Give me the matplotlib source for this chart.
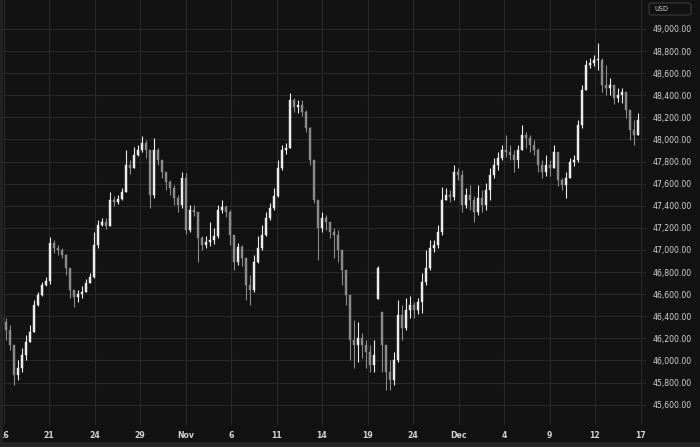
import matplotlib
matplotlib.use("Agg")
import matplotlib.pyplot as plt
from matplotlib.patches import FancyBboxPatch, Rectangle
import numpy as np

# price data (USD), one candle per slot; open = previous close unless gapped
first_open = 46390
closes = [46350, 46275, 46140, 45870, 45930, 46050, 46165, 46255, 46500, 46590,
          46685, 46720, 47065, 47020, 47000, 46955, 46835, 46640, 46575, 46600,
          46620, 46700, 46755, 47045, 47225, 47255, 47215, 47450, 47435, 47460,
          47525, 47770, 47740, 47860, 47905, 47970, 47905, 47495, 47905, 47815,
          47705, 47615, 47560, 47470, 47405, 47650, 47180, 47360, 47345, 47110,
          47045, 47070, 47090, 47125, 47360, 47390, 47345, 47135, 46890, 47025,
          46925, 46685, 46640, 46890, 47020, 47135, 47290, 47380, 47490, 47740,
          47905, 47925, 48355, 48295, 48310, 48250, 48105, 47815, 47450, 47200,
          47290, 47255, 47160, 47135, 47000, 46820, 46590, 46185, 46140, 46205,
          46140, 46075, 45960, 46050, 46835, 46140, 45895, 45825, 46005, 46410,
          46295, 46455, 46500, 46455, 46530, 46710, 46835, 47020, 47045, 47160,
          47450, 47495, 47480, 47705, 47680, 47405, 47495, 47450, 47345, 47470,
          47405, 47540, 47680, 47770, 47830, 47905, 47885, 47860, 47815, 47905,
          48040, 48015, 47950, 47905, 47770, 47705, 47770, 47740, 47885, 47635,
          47590, 47650, 47795, 47815, 48130, 48450, 48675, 48690, 48720, 48720,
          48495, 48465, 48495, 48375, 48400, 48430, 48265, 48085, 48040, 48175]
highs = [46410, 46385, 46320, 46140, 46005, 46115, 46230, 46320, 46550, 46620,
         46710, 46755, 47115, 47090, 47045, 47020, 46965, 46820, 46640, 46640,
         46675, 46735, 46790, 47160, 47270, 47290, 47290, 47525, 47490, 47495,
         47560, 47905, 47815, 47930, 47950, 48030, 47995, 47905, 48015, 47925,
         47815, 47705, 47635, 47590, 47495, 47705, 47695, 47405, 47405, 47315,
         47125, 47125, 47255, 47200, 47405, 47450, 47405, 47360, 47135, 47065,
         47045, 46865, 46775, 46955, 47125, 47225, 47345, 47425, 47560, 47815,
         47950, 47970, 48420, 48375, 48355, 48355, 48265, 48115, 47680, 47315,
         47345, 47315, 47225, 47200, 47180, 46955, 46685, 46385, 46365, 46350,
         46250, 46185, 46140, 46185, 46855, 46440, 46050, 46005, 46075, 46550,
         46500, 46565, 46585, 46530, 46565, 46790, 47000, 47090, 47090, 47225,
         47570, 47560, 47540, 47770, 47740, 47725, 47560, 47590, 47490, 47590,
         47540, 47605, 47740, 47830, 47885, 47950, 48040, 47950, 47905, 47950,
         48130, 48065, 48040, 47995, 47925, 47815, 47860, 47815, 47950, 47885,
         47650, 47705, 47830, 47860, 48175, 48495, 48720, 48740, 48765, 48875,
         48740, 48675, 48555, 48495, 48465, 48465, 48430, 48195, 48175, 48240]
lows = [46295, 46185, 46095, 45780, 45825, 45895, 46005, 46165, 46350, 46495,
        46585, 46675, 46690, 46970, 46955, 46925, 46775, 46565, 46485, 46530,
        46565, 46640, 46700, 46745, 47020, 47215, 47190, 47360, 47400, 47415,
        47450, 47680, 47690, 47740, 47850, 47885, 47830, 47380, 47470, 47770,
        47650, 47540, 47495, 47405, 47345, 47380, 47145, 47160, 47305, 46890,
        47000, 47020, 47035, 47055, 47110, 47335, 47300, 47045, 46820, 46865,
        46855, 46550, 46500, 46620, 46880, 47000, 47125, 47270, 47360, 47480,
        47725, 47870, 48060, 48250, 48240, 48210, 48065, 47770, 47425, 46910,
        47160, 47180, 47110, 46925, 46890, 46685, 46500, 46005, 45930, 45985,
        46020, 45930, 45895, 45895, 46560, 45895, 45735, 45735, 45780, 45985,
        46185, 46275, 46385, 46385, 46420, 46430, 46685, 46820, 46980, 47020,
        47135, 47450, 47435, 47450, 47635, 47345, 47380, 47360, 47255, 47315,
        47345, 47360, 47450, 47650, 47725, 47815, 47840, 47815, 47705, 47740,
        47905, 47925, 47885, 47860, 47705, 47650, 47670, 47670, 47740, 47580,
        47540, 47470, 47705, 47760, 47795, 48105, 48450, 48645, 48665, 48630,
        48430, 48400, 48400, 48320, 48340, 48330, 48195, 47995, 47950, 48085]
gap_opens = {94: 46560, 95: 46440}
tick_labels = ["16", "21", "24", "29", "Nov", "6", "11", "14", "19", "24",
               "Dec", "4", "9", "12", "17"]
price_ticks = list(range(45600, 49001, 200))

BG = "#121212"
GRID = "#282828"
TXT = "#d2d2d2"
UP = "#ececec"
DOWN = "#8a8a8a"

closes = np.array(closes, dtype=float)
opens = np.concatenate([[first_open], closes[:-1]])
for i, o in gap_opens.items():
    opens[i] = o
highs = np.maximum(np.array(highs, dtype=float), np.maximum(opens, closes))
lows = np.minimum(np.array(lows, dtype=float), np.minimum(opens, closes))
n = len(closes)
idx = np.arange(n)

fig = plt.figure(figsize=(7, 4.47), dpi=100, facecolor=BG)
ax = fig.add_axes([0, 22 / 447, 646 / 700, 425 / 447])
ax.set_facecolor(BG)

up = closes >= opens
cols = np.where(up, UP, DOWN)
ax.vlines(idx, lows, highs, colors=cols, linewidth=0.8, zorder=3)
body_h = np.maximum(np.abs(closes - opens), 8)
ax.bar(idx, body_h, bottom=np.minimum(opens, closes), width=0.55,
       color=cols, edgecolor=cols, linewidth=0.3, zorder=4)

ax.set_xlim(-0.5, 161)
ax.set_ylim(45416, 49262)

tick_pos = 0.375 + 11.375 * np.arange(len(tick_labels))
ax.set_xticks(tick_pos)
ax.set_xticklabels(tick_labels, color=TXT, fontsize=5.6, fontweight="bold")
ax.set_yticks(price_ticks)
ax.set_yticklabels(["{:,.2f}".format(p) for p in price_ticks], color=TXT,
                   fontsize=5.6)
ax.yaxis.tick_right()
ax.tick_params(axis="x", length=0, pad=4)
ax.tick_params(axis="y", length=0, pad=4.5)
ax.grid(True, color=GRID, linewidth=0.8)
ax.set_axisbelow(True)
for s in ax.spines.values():
    s.set_visible(False)

# "USD" box top right
fig.patches.append(FancyBboxPatch((649 / 700, 432 / 447), 42 / 700, 12 / 447,
                                  boxstyle="round,pad=0,rounding_size=0.004",
                                  transform=fig.transFigure, facecolor=BG,
                                  edgecolor="#3a3a3a", linewidth=0.8))
fig.text(654 / 700, 438 / 447, "USD", color=TXT, fontsize=4.8,
         ha="left", va="center")

# window edges
fig.patches.append(Rectangle((0, 0), 3 / 700, 1, transform=fig.transFigure,
                             facecolor="#232323", edgecolor="none"))
fig.patches.append(Rectangle((0, 0), 1, 5 / 447, transform=fig.transFigure,
                             facecolor="#262626", edgecolor="none"))

fig.savefig("out.png", dpi=100, facecolor=BG)
